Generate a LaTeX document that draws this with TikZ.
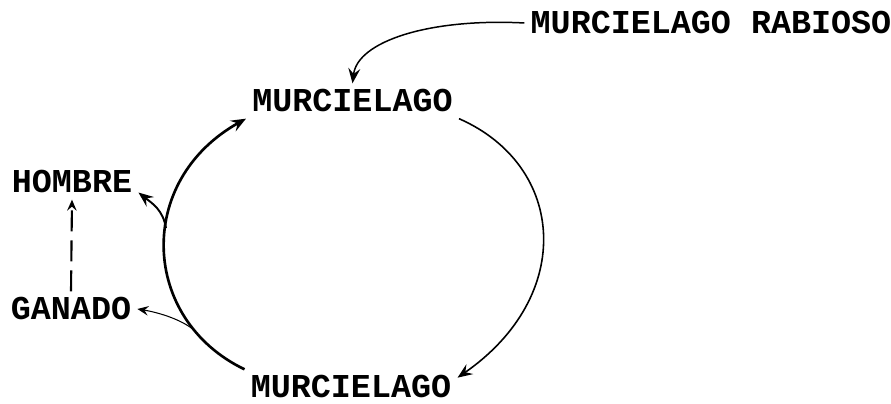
\documentclass[tikz,border=0pt]{standalone}
\usepackage{fontspec}
\setmonofont{Liberation Mono}
\usetikzlibrary{arrows.meta}

\begin{document}
\begin{tikzpicture}[
  x=0.02cm, y=0.02cm,
  word/.style={font=\ttfamily\bfseries\fontsize{19}{22}\selectfont,
               inner sep=0.12cm},
  arrow/.style={-{Stealth[length=3mm, width=2.4mm, inset=1.1mm]}},
  thinarrow/.style={-{Stealth[length=2.2mm, width=1.9mm, inset=0.8mm]}},
]
\useasboundingbox (0,0) rectangle (891,404);

%% Words
\node[word] (rabioso) at (711,381) {MURCIELAGO RABIOSO};
\node[word] (murtop)  at (352.5,303) {MURCIELAGO};
\node[word] (murbot)  at (351,17) {MURCIELAGO};
\node[word] (hombre)  at (72,222) {HOMBRE};
\node[word] (ganado)  at (71,95) {GANADO};

%% Cycle
\draw[arrow, line width=0.85pt] (rabioso.west)
  .. controls +(-95,5) and +(5,42) .. (murtop.north);
\draw[arrow, line width=0.9pt] (murtop.south east)
  .. controls +(107,-47) and +(118,82) .. (murbot.5);
\draw[arrow, line width=1.5pt] (murbot.north west)
  .. controls +(-104,50) and +(-111,-62) .. (murtop.south west)
  coordinate[pos=0.2] (fork2) coordinate[pos=0.57] (fork1);

%% Branches
\draw[arrow, line width=1.1pt] (fork1)
  .. controls +(-3,18) and +(14,-11) .. (hombre.-9);
\draw[thinarrow, line width=0.6pt] (fork2)
  .. controls +(-15,12) and +(18,-3) .. (ganado.east);
\draw[thinarrow, line width=1.2pt, dash pattern=on 0.42cm off 0.18cm]
  (ganado.north) -- (hombre.south);

\end{tikzpicture}
\end{document}
